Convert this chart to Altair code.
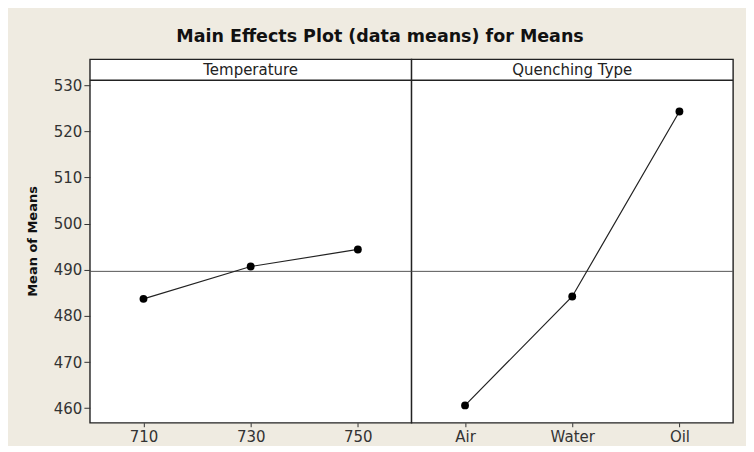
import altair as alt
import pandas as pd

# ---- data ----
temp_levels = ["710", "730", "750"]
temp_means = [483.7, 490.7, 494.4]
quench_levels = ["Air", "Water", "Oil"]
quench_means = [460.6, 484.2, 524.3]
grand_mean = [489.65]
y_ticks = [460, 470, 480, 490, 500, 510, 520, 530]
panel_titles = ["Temperature", "Quenching Type"]

# ---- layout constants ----
PANEL_W = 322
PANEL_H = 364
DATA_TOP = 531.08          # where the header strip starts (in y units)
Y_DOMAIN = [456.84, 535.63]
FONT = "DejaVu Sans"
BG = "#efebe1"


def panel(levels, means, title, show_y):
    df = pd.DataFrame({"level": levels, "y": means})
    yscale = alt.Scale(domain=Y_DOMAIN, nice=False, zero=False)
    if show_y:
        yaxis = alt.Axis(values=y_ticks, title="Mean of Means", grid=False,
                         domain=False, tickSize=6, tickColor="#333",
                         labelPadding=2, labelFontSize=15, labelFont=FONT,
                         labelColor="#333", titleFont=FONT, titleFontSize=13,
                         titleFontWeight="bold", titleColor="#111",
                         titlePadding=14)
    else:
        yaxis = None
    xenc = alt.X("level:N", sort=levels,
                 scale=alt.Scale(type="point", padding=0.5),
                 axis=alt.Axis(title=None, labelAngle=0, grid=False,
                               domain=False, tickSize=4, tickColor="#333",
                               labelPadding=3, labelFontSize=15,
                               labelFont=FONT, labelColor="#333"))
    y = alt.Y("y:Q", scale=yscale, axis=yaxis)

    base = alt.Chart(df)
    line = base.mark_line(color="#222", strokeWidth=1.2).encode(x=xenc, y=y)
    pts = base.mark_circle(color="black", size=62, opacity=1).encode(x=xenc, y=y)
    ref = alt.Chart(pd.DataFrame({"y": grand_mean})).mark_rule(
        color="#555", strokeWidth=1).encode(y=y)
    hdr_line = alt.Chart(pd.DataFrame({"y": [DATA_TOP]})).mark_rule(
        color="#222", strokeWidth=1.4).encode(y=y)
    hdr_text = alt.Chart(pd.DataFrame({"t": [title],
                                       "y": [(DATA_TOP + Y_DOMAIN[1]) / 2]})).mark_text(
        font=FONT, fontSize=15, color="#222", baseline="middle", align="center"
    ).encode(text="t:N", y=y, x=alt.value(PANEL_W / 2))
    return alt.layer(ref, line, pts, hdr_line, hdr_text).properties(
        width=PANEL_W, height=PANEL_H)


left = panel(temp_levels, temp_means, panel_titles[0], True)
right = panel(quench_levels, quench_means, panel_titles[1], False)

chart = alt.hconcat(left, right, spacing=0, bounds="flush").properties(
    title=alt.Title("Main Effects Plot (data means) for Means", font=FONT,
                    fontSize=17.5, fontWeight="bold", color="#111",
                    anchor="middle", offset=13),
    background=BG,
    padding={"left": 17, "top": 19, "right": 11, "bottom": 0},
).configure_view(stroke="#222", strokeWidth=1.4, fill="white")

chart.save("out.html", embed_options={"renderer": "svg", "actions": False})
